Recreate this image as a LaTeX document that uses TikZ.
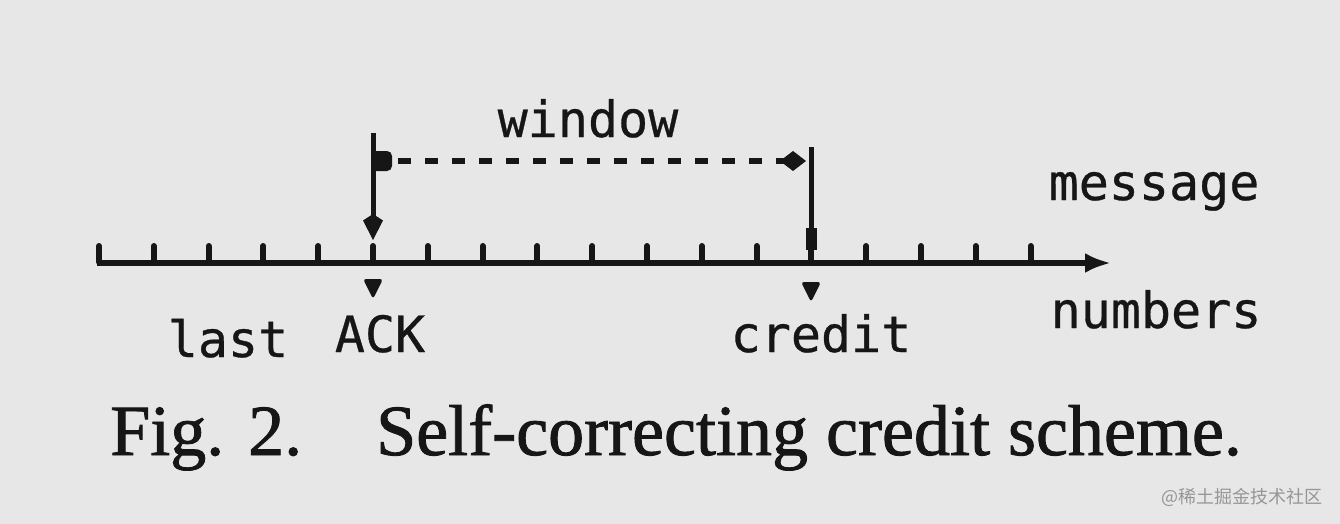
\documentclass[tikz,border=0pt]{standalone}
\usepackage{fontspec}
\setmainfont{Liberation Serif}
\newfontfamily\capfont[FakeBold=1.2]{Liberation Serif}
\newfontfamily\monofont[FakeBold=0.6]{DejaVu Sans Mono}
\newfontfamily\cjkfont{Noto Sans CJK SC}
\usetikzlibrary{arrows.meta}
\definecolor{bgc}{RGB}{231,231,231}
\definecolor{ink}{RGB}{22,22,22}
\definecolor{wm}{RGB}{150,150,150}
\tikzset{
  lbl/.style={font=\monofont\fontsize{50}{60}\selectfont, text=ink, inner sep=0pt, anchor=base},
  captext/.style={font=\capfont\fontsize{72}{80}\selectfont, text=ink, inner sep=0pt, anchor=base west},
  axisline/.style={draw=ink, line width=6pt},
  tickmark/.style={draw=ink, line width=6pt, line cap=round},
  vline/.style={draw=ink, line width=5pt},
  winline/.style={draw=ink, line width=6pt, dash pattern=on 13pt off 14pt},
  marker/.style={fill=ink, rounded corners=3pt},
}
\begin{document}
\begin{tikzpicture}[x=1pt,y=-1pt]
\fill[bgc] (0,0) rectangle (1340,524);
\useasboundingbox (0,0) rectangle (1340,524);

% axis
\coordinate (axL) at (97,263);
\coordinate (axR) at (1111,263);
\draw[axisline, -{Latex[length=26pt,width=20pt]}] (axL) -- (axR);
\foreach \i in {0,...,17}
  \draw[tickmark] ({99+54.8*\i},262) -- ({99+54.8*\i},246);

% ACK arrow
\coordinate (ackTop) at (373,133);
\coordinate (ackTip) at (373,240);
\draw[vline, -{Kite[length=26pt,width=20pt]}] (ackTop) -- (ackTip);

% credit line
\coordinate (crTop) at (811,147);
\coordinate (crBot) at (811,263);
\draw[vline] (crTop) -- (crBot);
\fill[ink] (806,228) rectangle (817,250);

% window dashed arrow
\fill[ink, rounded corners=5pt] (371,151) rectangle (392,171);
\coordinate (wS) at (398,161);
\coordinate (wE) at (806,161);
\draw[winline, -{Diamond[length=26pt,width=20pt]}] (wS) -- (wE);

% markers below axis
\fill[marker] (363,279) -- (383,279) -- (373,299) -- cycle;
\fill[marker] (801,282) -- (821,282) -- (811,302) -- cycle;

% labels
\node[lbl] (last) at (228,357) {last};
\node[lbl] (ack) at (380,352) {ACK};
\node[lbl] (credit) at (821,352) {credit};
\node[lbl] (window) at (588,137) {window};
\node[lbl] (message) at (1154,200) {message};
\node[lbl] (numbers) at (1156,328) {numbers};

% caption
\node[captext] (fig) at (110,455) {Fig. 2.};
\node[captext] (cap) at (376,455) {Self-correcting credit scheme.};

% watermark
\node[font=\cjkfont\fontsize{18}{20}\selectfont, text=wm, inner sep=0pt] (wmk) at (1242,497) {@稀土掘金技术社区};
\end{tikzpicture}
\end{document}
